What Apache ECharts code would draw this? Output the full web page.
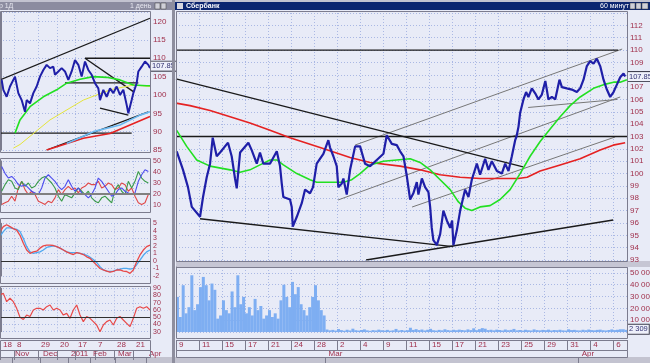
<!DOCTYPE html>
<html><head><meta charset="utf-8">
<script src="https://cdn.jsdelivr.net/npm/echarts@6/dist/echarts.min.js"></script>
<style>
html,body{margin:0;padding:0;background:#c3c3d0;}
#wrap{position:relative;width:650px;height:363px;background:#c3c3d0;overflow:hidden;}
.bg{position:absolute;background:#e8ebf7;}
#c{position:absolute;left:0;top:0;width:650px;height:363px;}
</style>
</head><body>
<div id="wrap">
  <div class="bg" style="left:0;top:10px;width:172px;height:347px"></div>
  <div class="bg" style="left:175px;top:10px;width:475px;height:347px"></div>
  <div style="position:absolute;left:176px;top:261px;width:474px;height:6px;background:#c6c6d4"></div>
  <div id="c"></div>
</div>
<script>
// ---------- RIGHT WINDOW (hourly, x = trading day from Feb 9) ----------
const rightDayLabels = ['9','11','15','17','21','24','28','2','4','9','11','15','17','21','23','25','29','31','4','6'];
const rightMonthTicks = [13, 35];
const rightMonthLabels = ['Mar','Apr'];
const rightPrice = [[0.06,101.8],[0.61,100.3],[1.04,98.9],[1.37,97.3],[2.09,96.5],[2.35,98.1],[2.67,99.7],[2.96,100.8],[3.19,102.9],[3.54,101.4],[3.83,101.7],[4.52,102.5],[4.84,101.4],[5.13,99.6],[5.28,98.8],[5.57,101.7],[6.29,102.5],[6.58,101.9],[7.02,100.8],[7.30,101.7],[7.59,100.8],[8.17,100.8],[8.76,101.8],[9.04,100.6],[9.19,99.2],[9.33,98.1],[9.91,97.9],[10.06,97.3],[10.15,95.7],[10.50,96.5],[10.93,97.6],[11.22,98.7],[11.65,98.4],[11.91,98.9],[12.23,100.8],[12.81,101.6],[13.24,102.7],[13.39,102.1],[13.68,101.4],[13.97,100.6],[14.11,98.9],[14.41,99.2],[14.55,99.6],[14.84,98.3],[15.13,100.3],[15.57,102.2],[16.0,102.2],[16.43,100.8],[16.87,100.6],[17.45,101.1],[18.03,101.6],[18.32,103.1],[18.76,102.4],[19.19,102.3],[19.48,101.8],[19.77,101.4],[20.06,99.8],[20.35,97.9],[20.63,98.4],[20.93,99.3],[21.07,98.3],[21.37,99.6],[21.65,98.9],[21.94,98.5],[22.09,97.3],[22.23,95.6],[22.37,94.6],[22.67,94.2],[22.96,95.1],[23.24,97.0],[23.54,96.2],[23.83,95.6],[24.0,96.2],[24.11,94.2],[24.41,95.4],[24.7,97.0],[25.13,98.7],[25.42,98.1],[25.71,99.5],[26.15,100.8],[26.43,99.9],[26.87,101.2],[27.16,100.3],[27.45,101.0],[27.89,100.2],[28.32,100.0],[28.61,100.8],[28.9,100.2],[29.19,101.4],[29.48,102.7],[29.6,103.0],[29.77,103.8],[29.91,104.9],[30.2,106.0],[30.43,106.6],[30.63,106.2],[30.93,106.9],[31.22,106.5],[31.5,106.0],[31.8,106.4],[32.1,107.5],[32.23,106.8],[32.37,106.0],[32.67,106.2],[32.96,106.0],[33.1,106.1],[33.33,107.6],[33.54,107.0],[33.97,106.9],[34.41,106.8],[34.84,106.6],[35.13,106.9],[35.42,107.6],[35.71,108.7],[36.0,109.1],[36.29,108.9],[36.58,109.3],[36.87,108.7],[37.16,107.6],[37.45,106.8],[37.74,106.2],[38.03,106.6],[38.32,107.2],[38.61,107.8],[38.9,108.1],[39.04,107.85]];
const rightGreen = [[0.06,103.5],[0.93,102.2],[1.8,101.1],[2.96,100.6],[4.7,100.3],[5.57,100.1],[6.43,100.3],[7.3,100.7],[8.17,101.1],[8.76,101.1],[9.33,100.7],[10.5,100.0],[11.65,99.5],[12.23,99.3],[13.39,99.3],[14.55,99.3],[15.28,99.5],[16.0,100.0],[16.87,100.7],[18.03,101.0],[19.19,101.1],[20.35,101.2],[21.22,100.9],[22.09,100.3],[22.96,99.5],[23.83,98.7],[24.55,97.7],[25.13,97.2],[25.71,97.0],[26.43,97.3],[27.3,97.4],[28.17,97.9],[29.04,98.7],[29.91,100.0],[30.78,101.4],[31.65,102.6],[32.52,103.6],[33.39,104.6],[34.26,105.5],[35.13,106.2],[36.29,106.9],[37.16,107.2],[38.03,107.4],[38.61,107.4],[39.19,107.6]];
const rightRed = [[0,105.7],[1.22,105.5],[2.96,105.1],[4.7,104.6],[6.43,104.1],[8.17,103.5],[9.91,102.9],[12.52,102.1],[15.13,101.3],[16.87,100.9],[19.48,100.6],[21.22,100.3],[22.96,99.9],[24.7,99.7],[26.43,99.6],[28.17,99.6],[29.74,99.6],[30.52,99.7],[31.65,100.2],[33.39,100.7],[35.13,101.2],[36.87,101.9],[38.0,102.3],[39.04,102.5]];
const rightBlackLines = [[0,110,38.43,110],[0,103,39.2,103],[0,107.66,30.17,100.55],[2.09,96.34,24.09,94.09],[16.52,93.0,38.0,96.24]];
const rightGrayLines = [[15.57,102.31,38.78,110.08],[14.09,97.86,38.61,106.2],[20.52,97.29,38.17,102.96],[30.61,105.35,38.35,106.0]];
// volume, thousands, 4 bars per trading day
const volume = [29.7,12.7,39.6,15.8,21,48,18.5,23.5,38,46.6,39.6,26.8,41,35.7,11.3,14,26.8,18.5,15.8,34.3,21,48,23.5,29.7,15.8,21,14,28,18.5,22,11.3,14,18.5,12.7,15.8,11.3,26.8,40,29.7,21,42.4,32,38,23.5,18.5,14,21,29.7,39.6,26.8,18.5,14,
 2.1,1.4,1.8,1.2,2.5,1.6,1.1,1.9,1.3,2.8,
 1.5,1.2,1.7,2.2,1.4,1.0,1.6,1.3,2.0,1.5,
 1.2,1.8,1.1,1.4,2.6,1.3,1.7,1.2,1.5,3.6,
 1.8,2.4,1.6,2.1,1.3,1.9,2.7,1.5,1.2,1.8,
 1.4,2.3,1.6,1.3,1.9,1.5,2.0,1.7,1.4,2.2,
 1.6,3.1,1.5,2.4,3.3,2.8,1.6,1.9,1.4,2.0,
 1.7,1.3,2.1,1.5,1.8,2.6,1.4,1.7,1.2,1.9,
 1.5,1.3,2.2,1.6,1.4,1.8,1.5,2.0,1.3,1.7,
 1.5,1.9,1.4,1.2,2.3,1.6,1.8,1.4,1.3,1.9,
 1.5,2.1,1.6,1.4,1.8,2.0,1.5,1.3,1.7,2.2,
 1.6,1.9,2.3,2.3,1.8];
const lastPrice = 107.85;
const lastVolume = 2309;

// ---------- LEFT WINDOW (daily, x = bar index) ----------
const leftDayTicks = [-0.5,3.7,10.9,16.6,22.0,28.0,33.7,39.4];
const leftDayLabels = ['18','8','29','20','17','7','28','21'];
const leftMonthTicks = [3.1,11.5,19.9,26.5,34.0,43.3];
const leftMonthLabels = ['Nov','Dec','2011','Feb','Mar','Apr'];
const leftPriceIdx = [-0.5,0,0.5,1.5,2.5,3.5,4,5,6,7,7.5,8.5,9.5,10.5,11.5,12.5,13.5,14.5,15.5,16,17,18,19,20,21,22,23,24,25,26,27,28,29,29.5,30.5,31.5,32.5,33.5,34.5,35.5,36.5,37.5,38,39,39.5,40.5,41,42,43,44,44.5];
const leftPriceVal = [103.2,104.1,101.4,99.5,102.3,104.1,105.0,100.5,98.6,95.4,98.6,97.7,100.5,102.3,105.0,106.8,108.2,107.3,107.7,105.5,106.4,107.3,106.4,104.1,106.4,109.5,108.2,105.0,109.1,106.8,105.5,103.2,101.8,98.6,101.4,99.5,101.8,100.5,102.3,100.0,101.4,97.3,95.0,98.6,100.5,103.2,106.4,107.7,109.1,108.2,107.3];
const leftGreen = [[4,89.6],[5.5,93.2],[8.5,96.8],[12.5,99.5],[16.5,101.4],[19.5,103.2],[23.5,104.3],[27.5,105.0],[31.5,104.8],[35.5,104.1],[39.5,102.7],[43.5,102.5],[44.5,102.5]];
const leftYellow = [[3.5,85.5],[5.5,86.5],[14.5,93.2],[24.5,98.6],[32.5,101.4],[39.5,102.7],[44.5,102.3]];
const leftRed = [[13.5,85],[24.5,88.2],[32.5,89.5],[38.5,91.8],[44.5,94.1]];
const leftCyan = [[19.5,86.8],[27.5,90.0],[35.5,91.8],[41.5,94.5],[44.5,95.4]];
const leftBlackLines = [[-0.5,104.1,44.5,120.9],[25,110,44.5,110],[25,110,39.5,100.9],[19,103.3,41,103.3],[29.5,96.4,38,94.5],[13.5,85,44,95.4],[-0.5,89.6,39,89.6]];
const oscBlue = [44.9,38.8,34.5,36,33,28.5,27,28.5,25.5,22.5,21,19.5,25.5,34.5,37.5,34.5,31.5,27,24,27,33,27,22.5,25.5,21,19.5,16.5,19.5,25.5,34.5,31.5,27,22.5,18,19.5,24,25.5,22.5,21,19.5,21,31.5,37.5,42,40.5];
const oscGreen = [22.5,28.5,33,31.5,25.5,24,31.5,27,30,25.5,27,31.5,34.5,36,33,30,25.5,18,13.5,19.5,18,16.5,21,25.5,22.5,19.5,22.5,16.5,13.5,12,16.5,18,15,12,24,28.5,22.5,19.5,31.5,25.5,31.5,40.5,34.5,31.5,30];
const oscRed = [10.5,12,13.5,18,13.5,25.5,31.5,24,19.5,22.5,19.5,13.5,12,10.5,13.5,12,16.5,24,19.5,24,27,24,25.5,21,25.5,27,30,28.5,28.5,31.5,25.5,27,30,28.5,24,25.5,30,28.5,22.5,25.5,18,12,10.5,12,19.5];
const macdRed = [3.9,4.55,4.8,4.55,4.3,4.1,3.4,2.35,1.45,1.0,1.2,1.3,1.7,2.0,2.1,2.1,2.05,1.9,1.7,1.45,1.2,1.0,0.85,1.1,1.0,0.85,0.55,0.35,-0.1,-0.55,-1.0,-1.2,-1.35,-1.5,-1.4,-1.2,-1.2,-1.35,-1.4,-1.65,-1.2,-0.1,0.8,1.45,1.9,2.1];
const macdBlue = [3.25,3.9,4.4,4.4,4.3,4.2,3.9,3.0,1.9,1.2,1.0,1.1,1.2,1.45,1.8,1.9,2.0,1.9,1.7,1.45,1.2,1.1,1.1,1.1,1.0,0.9,0.75,0.5,0.2,-0.2,-0.75,-1.2,-1.35,-1.4,-1.35,-1.2,-1.1,-1.0,-1.0,-1.1,-1.0,-0.5,0.1,0.75,1.2,1.45];
const rsiRed = [80.7,83,71.5,76.2,71.5,62.3,50,47,53,51,60,62.3,62.3,60,64.6,66.9,60,62.3,60,53,55.3,48.5,60,66.9,53,43.9,51,48.5,43.9,39.3,30,39.3,43.9,46.2,39.3,48.5,51,46.2,41.6,37,48.5,62.3,64.6,62.3,64.6,60];

// ---------- styling ----------
const LBL = '#a0304c';
const FONT = 'Liberation Sans';
const GRIDC = '#aab8e4';
const FRAME = '#7c7c8e';
const dotted = {show:true, lineStyle:{color:GRIDC, type:[1,2], width:1}};
const NOB = {outerBoundsMode:'none', containLabel:false};

const grids = [
  Object.assign({left:176, top:13, width:451, height:247}, NOB),      // 0 right main
  Object.assign({left:176, top:267, width:451, height:65}, NOB),      // 1 volume
  Object.assign({left:176, top:340, width:451, height:10}, NOB),      // 2 date row
  Object.assign({left:176, top:350, width:451, height:7}, NOB),       // 3 month row
  Object.assign({left:0, top:12, width:150, height:138}, NOB),        // 4 left price
  Object.assign({left:0, top:161, width:150, height:44}, NOB),        // 5 osc
  Object.assign({left:0, top:223.3, width:150, height:52.7}, NOB),    // 6 macd
  Object.assign({left:0, top:288.3, width:150, height:43.4}, NOB),    // 7 rsi
  Object.assign({left:0, top:340, width:150, height:10}, NOB),        // 8 left date row
  Object.assign({left:0, top:350, width:150, height:7}, NOB)          // 9 left month row
];

function rX(gi){ return {type:'value', gridIndex:gi, min:0, max:39.2, interval:2, axisLine:{show:false}, axisTick:{show:false}, axisLabel:{show:false}, splitLine:dotted}; }
function lX(gi){ return {type:'value', gridIndex:gi, min:-0.5, max:44.5, axisLine:{show:false}, axisTick:{show:false, customValues:leftDayTicks}, axisLabel:{show:false}, splitLine:dotted}; }
const smallLbl = {fontSize:8, fontFamily:FONT, color:LBL};
const tinyLbl = {fontSize:7, fontFamily:FONT, color:LBL};

const xAxes = [
  rX(0), rX(1),
  {type:'value', gridIndex:2, position:'top', min:0, max:39.2, interval:2, axisLine:{show:false}, axisTick:{show:false},
   axisLabel:Object.assign({inside:true, margin:1, align:'left', verticalAlign:'top', padding:[0,0,0,3],
     formatter:v=>{const k=v/2; return (Number.isInteger(k)&&k<rightDayLabels.length)?rightDayLabels[k]:'';}}, smallLbl),
   splitLine:{show:true, lineStyle:{color:FRAME, width:1}}},
  {type:'value', gridIndex:3, position:'top', min:0, max:39.2, axisLine:{show:false},
   axisTick:{show:true, inside:true, length:7, customValues:rightMonthTicks, lineStyle:{color:FRAME}},
   axisLabel:Object.assign({inside:true, margin:0, align:'left', verticalAlign:'top', padding:[0,0,0,3], customValues:rightMonthTicks,
     formatter:v=>{const k=rightMonthTicks.indexOf(v); return k>=0?rightMonthLabels[k]:'';}}, smallLbl),
   splitLine:{show:false}},
  lX(4), lX(5), lX(6), lX(7),
  {type:'value', gridIndex:8, position:'top', min:-0.5, max:44.5, axisLine:{show:false},
   axisTick:{show:true, inside:true, length:10, customValues:leftDayTicks, lineStyle:{color:FRAME}},
   axisLabel:Object.assign({inside:true, margin:1, align:'left', verticalAlign:'top', padding:[0,0,0,3], customValues:leftDayTicks,
     formatter:v=>{const k=leftDayTicks.indexOf(v); return k>=0?leftDayLabels[k]:'';}}, smallLbl),
   splitLine:{show:false}},
  {type:'value', gridIndex:9, position:'top', min:-0.5, max:44.5, axisLine:{show:false},
   axisTick:{show:true, inside:true, length:7, customValues:leftMonthTicks, lineStyle:{color:FRAME}},
   axisLabel:Object.assign({inside:true, margin:0, align:'left', verticalAlign:'top', padding:[0,0,0,3], customValues:leftMonthTicks,
     formatter:v=>{const k=leftMonthTicks.indexOf(v); return k>=0?leftMonthLabels[k]:'';}}, smallLbl),
   splitLine:{show:false}}
];

function yR(gi, min, max, interval, fmt, lbl){
  return {type:'value', gridIndex:gi, position:'right', min, max, interval,
    axisLine:{show:true, lineStyle:{color:FRAME}}, axisTick:{show:false},
    axisLabel:Object.assign({margin:3, formatter:fmt, showMinLabel:true, showMaxLabel:true, hideOverlap:false}, lbl||smallLbl), splitLine:dotted};
}
function yHidden(gi){ return {type:'value', gridIndex:gi, show:false, min:0, max:1, splitLine:{show:false}}; }
const yAxes = [
  yR(0, 93, 113, 1, v=> v>=113?'':String(v)),
  yR(1, 0, 55000, 10000, v=> (v<=0||v>50000)?'':(v/1000)+' 000'),
  yHidden(2), yHidden(3),
  yR(4, 85, 122.6, 5, v=> (v%5===0 && v<=120)?String(v):''),
  yR(5, 10, 50, 10, v=>String(v), tinyLbl),
  yR(6, -2, 5, 1, v=>String(v), tinyLbl),
  yR(7, 30, 90, 10, v=>String(v), tinyLbl),
  yHidden(8), yHidden(9)
];

const series = [];
function line(ax, data, color, width, extra){
  series.push(Object.assign({type:'line', xAxisIndex:ax, yAxisIndex:ax, data, symbol:'none', showSymbol:false,
    animation:false, silent:true, lineStyle:{color, width}, z:3}, extra||{}));
}
function seg(ax, s, color, width){ line(ax, [[s[0],s[1]],[s[2],s[3]]], color, width); }
function boxLabel(val, text){
  return {silent:true, symbol:'none', animation:false, lineStyle:{color:'rgba(0,0,0,0)', width:1, type:'solid'},
    label:{show:true, position:'end', distance:1, formatter:text, fontSize:7.5, fontFamily:FONT, color:'#303070',
      backgroundColor:'#eef0fa', borderColor:'#404050', borderWidth:1, padding:[1,1,0,1]},
    emphasis:{disabled:true},
    data:[{yAxis:val}]};
}

// right main
rightGrayLines.forEach(s=>seg(0, s, '#777777', 1));
rightBlackLines.forEach(s=>seg(0, s, '#1a1a1a', 1.3));
line(0, rightRed, '#e52222', 1.6);
line(0, rightGreen, '#22e022', 1.6);
line(0, rightPrice, '#1f1fa8', 2.2, {z:5, markLine:boxLabel(lastPrice, '107.85')});
// volume
series.push({type:'bar', xAxisIndex:1, yAxisIndex:1, barWidth:3, animation:false, silent:true,
  itemStyle:{color:'#7eaef2'}, data: volume.map((v,k)=>[(k+0.5)/4, v*1000]),
  markLine:boxLabel(lastVolume, '2 309')});

// left price
leftBlackLines.forEach(s=>seg(4, s, '#1a1a1a', 1.3));
line(4, leftRed, '#e52222', 1.6);
line(4, leftCyan, '#6ab8f0', 1.6);
line(4, leftYellow, '#e4e43a', 1);
line(4, leftGreen, '#22e022', 1.6);
line(4, leftPriceIdx.map((x,k)=>[x, leftPriceVal[k]]), '#1f1fa8', 2, {z:5, markLine:boxLabel(lastPrice, '107.85')});
// oscillator
line(5, oscRed.map((v,k)=>[k,v]), '#e04848', 1.1);
line(5, oscGreen.map((v,k)=>[k,v]), '#3a9a4a', 1.1);
line(5, oscBlue.map((v,k)=>[k,v]), '#4c4cee', 1.1, {markLine:{silent:true, symbol:'none', animation:false, label:{show:false}, lineStyle:{color:'#808080', width:2, type:'solid'}, data:[{yAxis:20}]}});
// macd
line(6, macdBlue.map((v,k)=>[k-0.5,v]), '#4fa8f0', 1.3);
line(6, macdRed.map((v,k)=>[k-0.5,v]), '#e84848', 1.3, {markLine:{silent:true, symbol:'none', animation:false, label:{show:false}, lineStyle:{color:'#303030', width:1, type:'solid'}, data:[{yAxis:0}]}});
// rsi
line(7, rsiRed.map((v,k)=>[k-0.5,v]), '#e84848', 1.2, {markLine:{silent:true, symbol:'none', animation:false, label:{show:false}, lineStyle:{color:'#303030', width:1, type:'solid'}, data:[{yAxis:50}]}});
// date rows need a dummy series so axes render
series.push({type:'line', xAxisIndex:2, yAxisIndex:2, data:[], silent:true});
series.push({type:'line', xAxisIndex:3, yAxisIndex:3, data:[], silent:true});
series.push({type:'line', xAxisIndex:8, yAxisIndex:8, data:[], silent:true});
series.push({type:'line', xAxisIndex:9, yAxisIndex:9, data:[], silent:true});

function frame(x,y,w,h){ return {type:'rect', z:50, silent:true, shape:{x:x+0.5,y:y+0.5,width:w,height:h}, style:{fill:'none', stroke:FRAME, lineWidth:1}}; }
const graphic = [
  {type:'rect', z:40, silent:true, shape:{x:175,y:2,width:475,height:8}, style:{fill:'#0c2670'}},
  {type:'rect', z:41, silent:true, shape:{x:177,y:3,width:6,height:6}, style:{fill:'#d8d8e0'}},
  {type:'text', z:42, silent:true, x:186, y:6, style:{text:'Сбербанк', fill:'#ffffff', font:'bold 7px '+FONT, verticalAlign:'middle'}},
  {type:'text', z:42, silent:true, x:600, y:6, style:{text:'60 минут', fill:'#ffffff', font:'7px '+FONT, verticalAlign:'middle'}},
  {type:'rect', z:41, silent:true, shape:{x:630,y:3,width:5,height:6}, style:{fill:'#d0d0d8', stroke:'#404040', lineWidth:0.5}},
  {type:'rect', z:41, silent:true, shape:{x:636,y:3,width:5,height:6}, style:{fill:'#d0d0d8', stroke:'#404040', lineWidth:0.5}},
  {type:'rect', z:41, silent:true, shape:{x:642,y:3,width:6,height:6}, style:{fill:'#d0d0d8', stroke:'#404040', lineWidth:0.5}},
  {type:'rect', z:40, silent:true, shape:{x:0,y:2,width:172,height:8}, style:{fill:'#8c8ca0'}},
  {type:'text', z:42, silent:true, x:-14, y:6, style:{text:'Сбер 1Д', fill:'#e8e8f0', font:'7px '+FONT, verticalAlign:'middle'}},
  {type:'text', z:42, silent:true, x:130, y:6, style:{text:'1 день', fill:'#e8e8f0', font:'7px '+FONT, verticalAlign:'middle'}},
  {type:'rect', z:41, silent:true, shape:{x:155,y:3,width:5,height:6}, style:{fill:'#d0d0d8', stroke:'#404040', lineWidth:0.5}},
  {type:'rect', z:41, silent:true, shape:{x:161,y:3,width:5,height:6}, style:{fill:'#d0d0d8', stroke:'#404040', lineWidth:0.5}},
  {type:'rect', z:40, silent:true, shape:{x:172,y:0,width:3,height:363}, style:{fill:'#8e8e9e'}},
  frame(176,11,451,250), frame(176,267,451,71), frame(176,340,451,10), frame(176,350,451,7),
  frame(0,11,150,141), frame(0,158,150,54), frame(0,218,150,65), frame(0,286,150,52), frame(0,340,150,10), frame(0,350,150,7)
];

const chart = echarts.init(document.getElementById('c'), null, {renderer:'canvas'});
chart.setOption({animation:false, backgroundColor:'transparent', textStyle:{fontFamily:FONT},
  grid:grids, xAxis:xAxes, yAxis:yAxes, series, graphic});
</script>
</body></html>
